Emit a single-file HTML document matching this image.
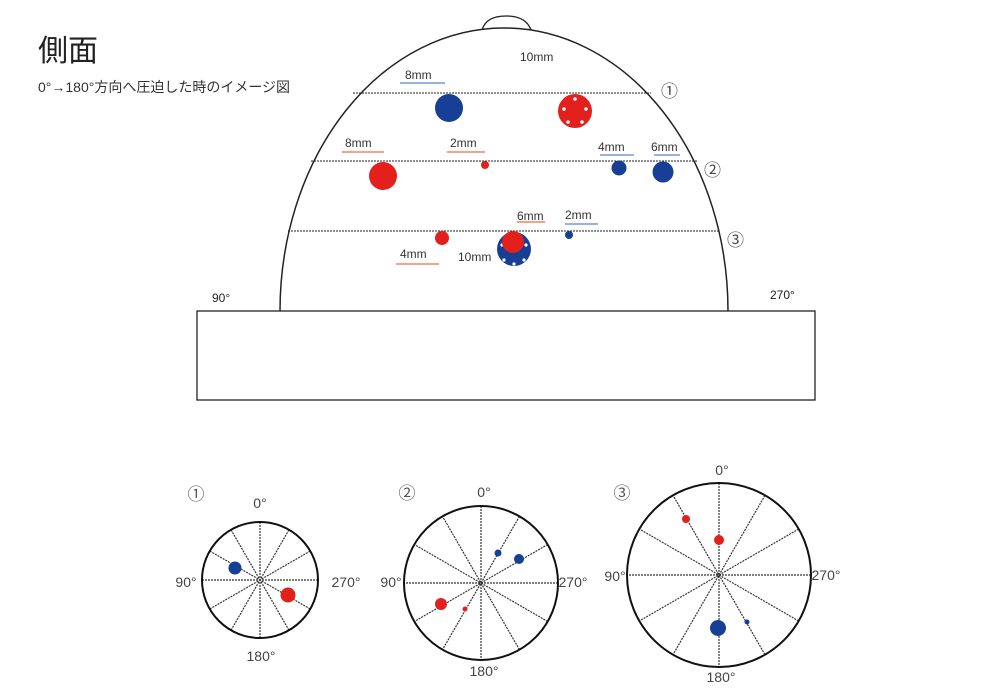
<!DOCTYPE html>
<html><head><meta charset="utf-8"><style>
html,body{margin:0;padding:0;background:#fff;}
svg{display:block;font-family:"Liberation Sans","Noto Sans CJK JP",sans-serif;}
</style></head><body>
<svg width="1000" height="700" viewBox="0 0 1000 700" xmlns="http://www.w3.org/2000/svg">
<text x="38" y="61" font-size="30" fill="#222">側面</text>
<text x="38" y="92" font-size="14" fill="#333">0°→180°方向へ圧迫した時のイメージ図</text>

<path d="M482 30 Q486 16 506 16 Q526 16 531 30" fill="none" stroke="#222" stroke-width="1.3"/>
<path d="M280 311 A224 283 0 0 1 728 311" fill="none" stroke="#222" stroke-width="1.5"/>
<rect x="197" y="311" width="618" height="89" fill="none" stroke="#222" stroke-width="1.3"/>
<text x="212" y="302" font-size="12" fill="#222">90°</text>
<text x="770" y="299" font-size="12" fill="#222">270°</text>

<g stroke="#222" stroke-width="1.1" stroke-dasharray="2,1">
<line x1="353" y1="93" x2="651" y2="93"/>
<line x1="311" y1="161" x2="697" y2="161"/>
<line x1="288" y1="231" x2="720" y2="231"/>
</g>
<g font-size="17" fill="#444" font-family="'Noto Sans CJK JP',sans-serif">
<text x="661" y="97">①</text>
<text x="704" y="176">②</text>
<text x="727" y="246">③</text>
</g>

<g font-size="12" fill="#333">
<text x="520" y="61">10mm</text>
<text x="405" y="79">8mm</text>
<text x="345" y="147">8mm</text>
<text x="450" y="147">2mm</text>
<text x="598" y="151">4mm</text>
<text x="651" y="151">6mm</text>
<text x="517" y="220">6mm</text>
<text x="565" y="219">2mm</text>
<text x="400" y="258">4mm</text>
<text x="458" y="261">10mm</text>
</g>
<g stroke-width="1.2">
<line x1="400" y1="83" x2="445" y2="83" stroke="#5a80d0"/>
<line x1="342" y1="152" x2="384" y2="152" stroke="#ee6a48"/>
<line x1="447" y1="152" x2="485" y2="152" stroke="#ee6a48"/>
<line x1="600" y1="155" x2="634" y2="155" stroke="#5a80d0"/>
<line x1="654" y1="155" x2="680" y2="155" stroke="#5a80d0"/>
<line x1="517" y1="222" x2="545" y2="222" stroke="#ee6a48"/>
<line x1="565" y1="224" x2="598" y2="224" stroke="#5a80d0"/>
<line x1="396" y1="264" x2="439" y2="264" stroke="#ee6a48"/>
</g>

<g>
<circle cx="449" cy="108" r="14" fill="#163f95"/>
<circle cx="575" cy="111" r="17" fill="#e3201b"/>
<g fill="#fff"><circle cx="575" cy="99" r="1.8"/><circle cx="586" cy="109" r="1.8"/><circle cx="582" cy="122" r="1.8"/><circle cx="568" cy="122" r="1.8"/><circle cx="564" cy="109" r="1.8"/></g>
<circle cx="383" cy="176" r="14" fill="#e3201b"/>
<circle cx="485" cy="165" r="4" fill="#e3201b"/>
<circle cx="619" cy="168" r="7.5" fill="#163f95"/>
<circle cx="663" cy="172" r="10.5" fill="#163f95"/>
<circle cx="442" cy="238" r="7" fill="#e3201b"/>
<circle cx="569" cy="235" r="4" fill="#163f95"/>
<circle cx="514" cy="249" r="17" fill="#163f95"/>
<g fill="#fff"><circle cx="502" cy="245" r="1.6"/><circle cx="526" cy="245" r="1.6"/><circle cx="504" cy="260" r="1.6"/><circle cx="524" cy="260" r="1.6"/><circle cx="514" cy="264" r="1.6"/></g>
<circle cx="513" cy="242" r="11" fill="#e3201b"/>
</g>

<g stroke="#333" stroke-width="1.2" stroke-dasharray="2,1">
<g transform="translate(260,580)">
<line x1="0" y1="-58" x2="0" y2="58"/><line x1="0" y1="-58" x2="0" y2="58" transform="rotate(30)"/><line x1="0" y1="-58" x2="0" y2="58" transform="rotate(60)"/><line x1="0" y1="-58" x2="0" y2="58" transform="rotate(90)"/><line x1="0" y1="-58" x2="0" y2="58" transform="rotate(120)"/><line x1="0" y1="-58" x2="0" y2="58" transform="rotate(150)"/>
</g>
<g transform="translate(481,583)">
<line x1="0" y1="-77" x2="0" y2="77"/><line x1="0" y1="-77" x2="0" y2="77" transform="rotate(30)"/><line x1="0" y1="-77" x2="0" y2="77" transform="rotate(60)"/><line x1="0" y1="-77" x2="0" y2="77" transform="rotate(90)"/><line x1="0" y1="-77" x2="0" y2="77" transform="rotate(120)"/><line x1="0" y1="-77" x2="0" y2="77" transform="rotate(150)"/>
</g>
<g transform="translate(719,575)">
<line x1="0" y1="-92" x2="0" y2="92"/><line x1="0" y1="-92" x2="0" y2="92" transform="rotate(30)"/><line x1="0" y1="-92" x2="0" y2="92" transform="rotate(60)"/><line x1="0" y1="-92" x2="0" y2="92" transform="rotate(90)"/><line x1="0" y1="-92" x2="0" y2="92" transform="rotate(120)"/><line x1="0" y1="-92" x2="0" y2="92" transform="rotate(150)"/>
</g>
</g>
<g fill="none" stroke="#111" stroke-width="2">
<circle cx="260" cy="580" r="58"/>
<circle cx="481" cy="583" r="77"/>
<circle cx="719" cy="575" r="92"/>
</g>
<g font-size="17" fill="#555" text-anchor="middle" font-family="'Noto Sans CJK JP',sans-serif">
<text x="196" y="500">①</text>
<text x="407" y="499">②</text>
<text x="622" y="499">③</text>
</g>
<g font-size="14" fill="#444" text-anchor="middle">
<text x="260" y="508">0°</text>
<text x="186" y="587">90°</text>
<text x="346" y="587">270°</text>
<text x="261" y="661">180°</text>
<text x="484" y="497">0°</text>
<text x="391" y="587">90°</text>
<text x="573" y="587">270°</text>
<text x="484" y="676">180°</text>
<text x="722" y="475">0°</text>
<text x="615" y="581">90°</text>
<text x="826" y="580">270°</text>
<text x="721" y="682">180°</text>
</g>
<circle cx="235" cy="568" r="6.5" fill="#163f95"/>
<circle cx="288" cy="595" r="7.5" fill="#e3201b"/>
<circle cx="498" cy="553" r="3.5" fill="#163f95"/>
<circle cx="519" cy="559" r="5" fill="#163f95"/>
<circle cx="441" cy="604" r="6" fill="#e3201b"/>
<circle cx="465" cy="609" r="2.5" fill="#e3201b"/>
<circle cx="686" cy="519" r="4" fill="#e3201b"/>
<circle cx="719" cy="540" r="5" fill="#e3201b"/>
<circle cx="718" cy="628" r="8" fill="#163f95"/>
<circle cx="747" cy="622" r="2.5" fill="#163f95"/>
</svg>
</body></html>
